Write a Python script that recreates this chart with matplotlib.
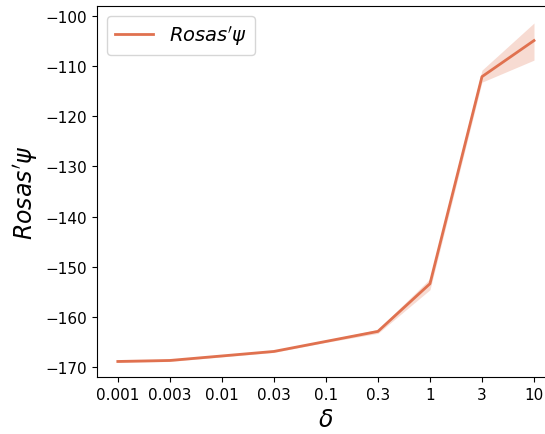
import matplotlib
matplotlib.use("Agg")
import matplotlib.pyplot as plt
import numpy as np

delta_labels = ["0.001", "0.003", "0.01", "0.03", "0.1", "0.3", "1", "3", "10"]
rosas_mean = [-168.9, -168.7, -167.8, -166.9, -164.9, -162.9, -153.4, -112.1, -104.9]
rosas_low = [-169.1, -168.9, -168.0, -167.1, -165.1, -163.3, -154.6, -113.2, -108.8]
rosas_high = [-168.7, -168.5, -167.6, -166.7, -164.7, -162.5, -152.4, -110.8, -101.4]

color = "#e0714f"

fig = plt.figure(figsize=(5.45, 4.35), dpi=100)
ax = fig.add_axes([0.178, 0.131, 0.84, 0.853])

x = np.arange(len(delta_labels))
ax.fill_between(x, rosas_low, rosas_high, color=color, alpha=0.25, linewidth=0)
ax.plot(x, rosas_mean, color=color, linewidth=2, label=r"$Rosas'\psi$")

ax.set_xticks(x)
ax.set_xticklabels(delta_labels)
ax.set_xlim(-0.4, 8.4)
ax.set_ylim(-172, -98)
ax.set_yticks(np.arange(-170, -99, 10))
ax.tick_params(labelsize=11)
ax.set_xlabel(r"$\delta$", fontsize=17)
ax.set_ylabel(r"$Rosas'\psi$", fontsize=17)
ax.legend(loc="upper left", fontsize=14)

fig.savefig("out.png", dpi=100)
